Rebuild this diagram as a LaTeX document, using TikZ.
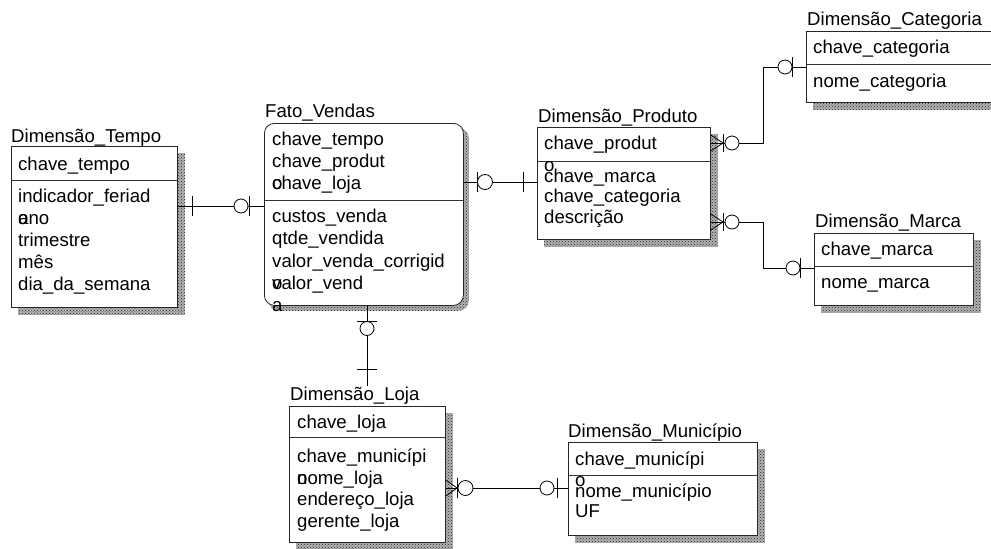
\documentclass[tikz,border=0pt]{standalone}
\usepackage{fontspec}
\setmainfont{Liberation Sans}
\usetikzlibrary{patterns,backgrounds}
\begin{document}
\begin{tikzpicture}[x=1pt,y=-1pt,
  ent/.style={draw=black!85, line width=0.8pt, fill=white, inner sep=0pt, anchor=north west},
  sepline/.style={draw=black!80, line width=0.8pt},
  txt/.style={inner sep=0pt, anchor=base west, font=\fontsize{18.6}{22}\selectfont},
  shadowfill/.style={fill=gray!60, postaction={pattern=crosshatch dots, pattern color=black!85}},
  conn/.style={draw=black, line width=0.8pt},
  ring/.style={draw=black, line width=0.8pt, fill=white}
]
\useasboundingbox (0,0) rectangle (991,549);
\clip (0,0) rectangle (991,549);

% ---------- entity boxes ----------
\node[ent, minimum width=166pt, minimum height=161pt] (tempo) at (11,146) {};
\node[ent, rounded corners=10pt, minimum width=199pt, minimum height=182pt] (fato) at (264,123) {};
\node[ent, minimum width=173pt, minimum height=112pt] (produto) at (537,127) {};
\node[ent, minimum width=199pt, minimum height=71pt] (categoria) at (806,31) {};
\node[ent, minimum width=159pt, minimum height=72pt] (marca) at (814,233) {};
\node[ent, minimum width=156pt, minimum height=136pt] (loja) at (289,406) {};
\node[ent, minimum width=189pt, minimum height=93pt] (municipio) at (568,442) {};

% drop shadows
\begin{scope}[on background layer]
  \foreach \e in {tempo,produto,categoria,marca,loja,municipio}
    \path[shadowfill] ([shift={(7,7)}]\e.south west) rectangle ([shift={(7,7)}]\e.north east);
  \path[shadowfill, rounded corners=10pt] ([shift={(5,5)}]fato.south west) rectangle ([shift={(5,5)}]fato.north east);
\end{scope}

% key / attribute separators
\draw[sepline] (tempo.west |- 0,180) -- (tempo.east |- 0,180);
\draw[sepline] (fato.west |- 0,200) -- (fato.east |- 0,200);
\draw[sepline] (produto.west |- 0,161) -- (produto.east |- 0,161);
\draw[sepline] (categoria.west |- 0,64) -- (categoria.east |- 0,64);
\draw[sepline] (marca.west |- 0,266) -- (marca.east |- 0,266);
\draw[sepline] (loja.west |- 0,437) -- (loja.east |- 0,437);
\draw[sepline] (municipio.west |- 0,475) -- (municipio.east |- 0,475);

% ---------- titles ----------
\node[txt] (ttempo) at (11,142) {Dimensão\_Tempo};
\node[txt] (tfato) at (265,117) {Fato\_Vendas};
\node[txt] (tproduto) at (538,122) {Dimensão\_Produto};
\node[txt] (tcategoria) at (807,25) {Dimensão\_Categoria};
\node[txt] (tmarca) at (815,227) {Dimensão\_Marca};
\node[txt] (tloja) at (290,400) {Dimensão\_Loja};
\node[txt] (tmunicipio) at (568,437) {Dimensão\_Município};

% ---------- attributes ----------
\node[txt] (tp1) at (18,170) {chave\_tempo};
\node[txt] (tp2) at (18,202) {indicador\_feriad};
\node[txt] (tp3) at (18,224) {o};
\node[txt] (tp4) at (18,224) {ano};
\node[txt] (tp5) at (18,246) {trimestre};
\node[txt] (tp6) at (18,268) {mês};
\node[txt] (tp7) at (18,290) {dia\_da\_semana};

\node[txt] (fv1) at (272,145) {chave\_tempo};
\node[txt] (fv2) at (272,167) {chave\_produt};
\node[txt] (fv3) at (272,189) {o};
\node[txt] (fv4) at (272,189) {chave\_loja};
\node[txt] (fv5) at (272,222) {custos\_venda};
\node[txt] (fv6) at (272,244.5) {qtde\_vendida};
\node[txt] (fv7) at (272,267) {valor\_venda\_corrigid};
\node[txt] (fv8) at (272,289) {o};
\node[txt] (fv9) at (272,289) {valor\_vend};
\node[txt] (fv10) at (272,311) {a};

\node[txt] (pr1) at (544,149) {chave\_produt};
\node[txt] (pr2) at (544,171) {o};
\node[txt] (pr3) at (544,182) {chave\_marca};
\node[txt] (pr4) at (544,202.5) {chave\_categoria};
\node[txt] (pr5) at (544,223) {descrição};

\node[txt] (ca1) at (813,53) {chave\_categoria};
\node[txt] (ca2) at (813,87) {nome\_categoria};

\node[txt] (ma1) at (821,255) {chave\_marca};
\node[txt] (ma2) at (821,288) {nome\_marca};

\node[txt] (lo1) at (297,428) {chave\_loja};
\node[txt] (lo2) at (297,462) {chave\_municípi};
\node[txt] (lo3) at (297,484) {o};
\node[txt] (lo4) at (297,484) {nome\_loja};
\node[txt] (lo5) at (297,505.5) {endereço\_loja};
\node[txt] (lo6) at (297,527) {gerente\_loja};

\node[txt] (mu1) at (575,465) {chave\_municípi};
\node[txt] (mu2) at (575,486) {o};
\node[txt] (mu3) at (575,497) {nome\_município};
\node[txt] (mu4) at (575,517) {UF};

% ---------- relationships ----------
% Tempo -- Fato
\draw[conn] (tempo.east |- 0,206) -- (fato.west |- 0,206);
\draw[conn] (192,196) -- (192,216);
\draw[ring] (241,206) circle[radius=7pt];
\draw[conn] (249,196) -- (249,216);

% Fato -- Produto
\draw[conn] (fato.east |- 0,182) -- (produto.west |- 0,182);
\draw[conn] (477,172) -- (477,192);
\draw[ring] (485,182) circle[radius=7.5pt];
\draw[conn] (523,172) -- (523,192);

% Produto -- Categoria
\draw[conn] (produto.east |- 0,143) -| (763,67) -- (categoria.west |- 0,67);
\draw[conn] (produto.east |- 0,135) -- (723,143) -- (produto.east |- 0,151);
\draw[conn] (723,134) -- (723,152);
\draw[ring] (732,143) circle[radius=7pt];
\draw[ring] (785,67) circle[radius=7pt];
\draw[conn] (792,57) -- (792,77);

% Produto -- Marca
\draw[conn] (produto.east |- 0,222) -| (763,268) -- (marca.west |- 0,268);
\draw[conn] (produto.east |- 0,214) -- (723,222) -- (produto.east |- 0,230);
\draw[conn] (723,213) -- (723,231);
\draw[ring] (732,222) circle[radius=7pt];
\draw[ring] (793,268) circle[radius=7pt];
\draw[conn] (800,258) -- (800,278);

% Fato -- Loja
\draw[conn] (fato.south -| 367,0) -- (tloja.north -| 367,0);
\draw[conn] (357,321) -- (377,321);
\draw[ring] (367,328.5) circle[radius=7pt];
\draw[conn] (357,369) -- (377,369);

% Loja -- Municipio
\draw[conn] (loja.east |- 0,488) -- (municipio.west |- 0,488);
\draw[conn] (loja.east |- 0,480) -- (457,488) -- (loja.east |- 0,496);
\draw[conn] (457,478) -- (457,498);
\draw[ring] (465.5,488) circle[radius=7.5pt];
\draw[ring] (547,488) circle[radius=7pt];
\draw[conn] (557,478) -- (557,498);
\end{tikzpicture}
\end{document}
